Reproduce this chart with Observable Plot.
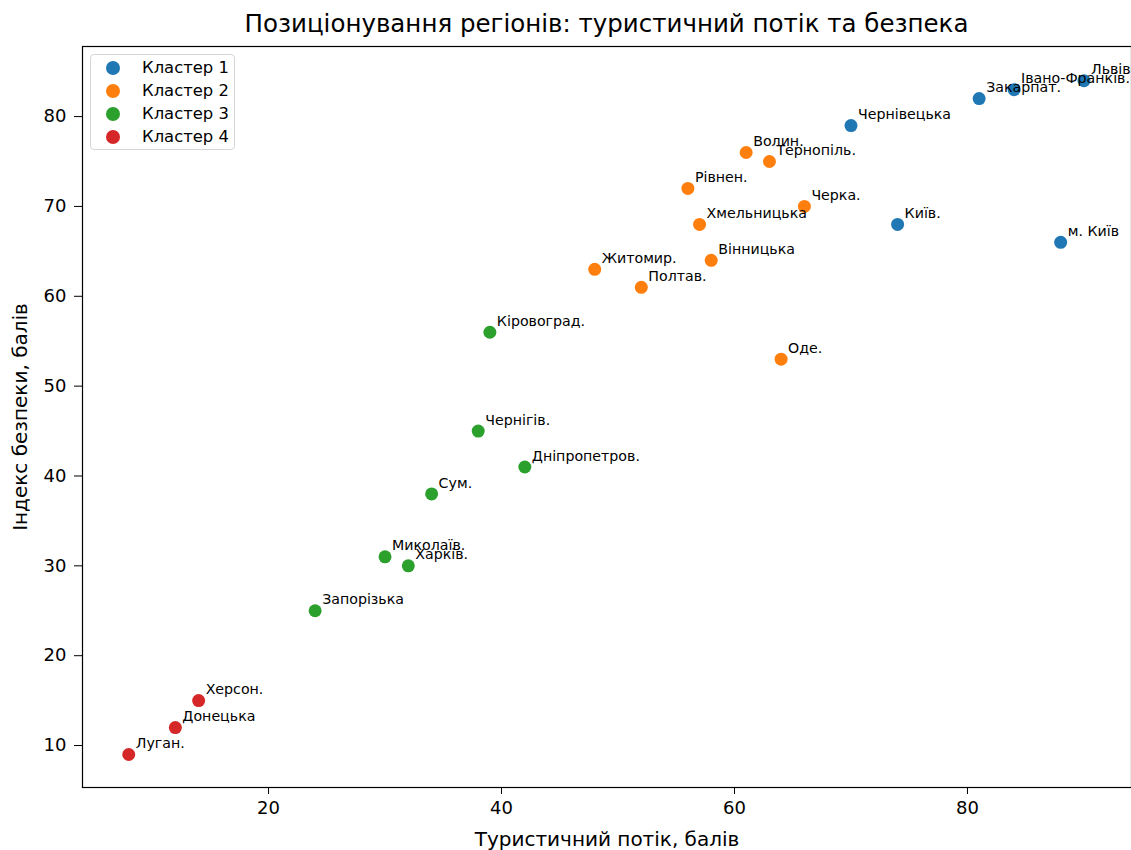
<!DOCTYPE html>
<html><head><meta charset="utf-8">
<script src="https://cdn.jsdelivr.net/npm/d3@7"></script>
<script src="https://cdn.jsdelivr.net/npm/@observablehq/plot@0.6"></script>
<style>
body{margin:0;background:#fff;font-family:"DejaVu Sans",sans-serif;}
#wrap{position:relative;width:1131px;height:850px;}
#title{position:absolute;left:82px;width:1049px;top:9px;text-align:center;font-size:24.5px;line-height:30px;color:#000;}
#chart{position:absolute;left:0;top:40px;}
#legend{position:absolute;left:90px;top:54px;width:145px;height:96px;border:1px solid #d6d6d6;border-radius:4px;background:rgba(255,255,255,0.8);box-sizing:border-box;font-size:16.4px;}
#legend .row{position:absolute;left:0;height:22px;width:100%;}
#legend .dot{position:absolute;left:15px;top:4px;width:14px;height:14px;border-radius:50%;}
#legend .lab{position:absolute;left:51px;top:1px;line-height:20px;white-space:nowrap;}
</style></head>
<body><div id="wrap"><div id="title">Позиціонування регіонів: туристичний потік та безпека</div><div id="chart"></div><div id="legend"></div></div>
<script>
const clusters = ["Кластер 1","Кластер 2","Кластер 3","Кластер 4"];
const colors = ["#1f77b4","#ff7f0e","#2ca02c","#d62728"];
const names = ["Львів","Івано-Франків.","Закарпат.","Чернівецька","Київ.","м. Київ",
  "Волин.","Тернопіль.","Рівнен.","Черка.","Хмельницька","Вінницька","Житомир.","Полтав.","Оде.",
  "Кіровоград.","Чернігів.","Дніпропетров.","Сум.","Миколаїв.","Харків.","Запорізька",
  "Херсон.","Донецька","Луган."];
const tourism = [90,84,81,70,74,88, 61,63,56,66,57,58,48,52,64, 39,38,42,34,30,32,24, 14,12,8];
const safety  = [84,83,82,79,68,66, 76,75,72,70,68,64,63,61,53, 56,45,41,38,31,30,25, 15,12,9];
const clusterOf = [1,1,1,1,1,1, 2,2,2,2,2,2,2,2,2, 3,3,3,3,3,3,3, 4,4,4];
const xTicks = [20,40,60,80];
const yTicks = [10,20,30,40,50,60,70,80];

const data = names.map((n,i)=>({name:n,x:tourism[i],y:safety[i],c:clusters[clusterOf[i]-1]}));

const plot = Plot.plot({
  width:1131, height:810,
  marginLeft:82, marginRight:0, marginTop:6, marginBottom:63,
  style:{fontFamily:"DejaVu Sans, sans-serif", fontSize:"18px", color:"#000", background:"#fff"},
  x:{domain:[4.03,94.08], ticks:xTicks, tickSize:7, tickPadding:7, label:"Туристичний потік, балів", labelAnchor:"center", labelArrow:"none", labelOffset:58},
  y:{domain:[5.33,87.8], ticks:yTicks, tickSize:8, tickPadding:8, label:"Індекс безпеки, балів", labelAnchor:"center", labelArrow:"none", labelOffset:70},
  color:{domain:clusters, range:colors},
  marks:[
    Plot.frame({stroke:"#000", strokeWidth:1.2}),
    Plot.dot(data,{x:"x",y:"y",fill:"c",r:6.5,stroke:null}),
    Plot.text(data,{x:"x",y:"y",text:"name",textAnchor:"start",dx:7,dy:-11,fontSize:14.2,fill:"#000"})
  ]
});
plot.querySelectorAll('g[aria-label="x-axis label"] text, g[aria-label="y-axis label"] text').forEach(t=>t.style.fontSize="20px");
document.getElementById("chart").appendChild(plot);

const lg = document.getElementById("legend");
clusters.forEach((c,i)=>{
  const row=document.createElement("div");
  row.className="row"; row.style.top=(2+i*23)+"px";
  row.innerHTML=`<span class="dot" style="background:${colors[i]}"></span><span class="lab">${c}</span>`;
  lg.appendChild(row);
});
</script></body></html>
